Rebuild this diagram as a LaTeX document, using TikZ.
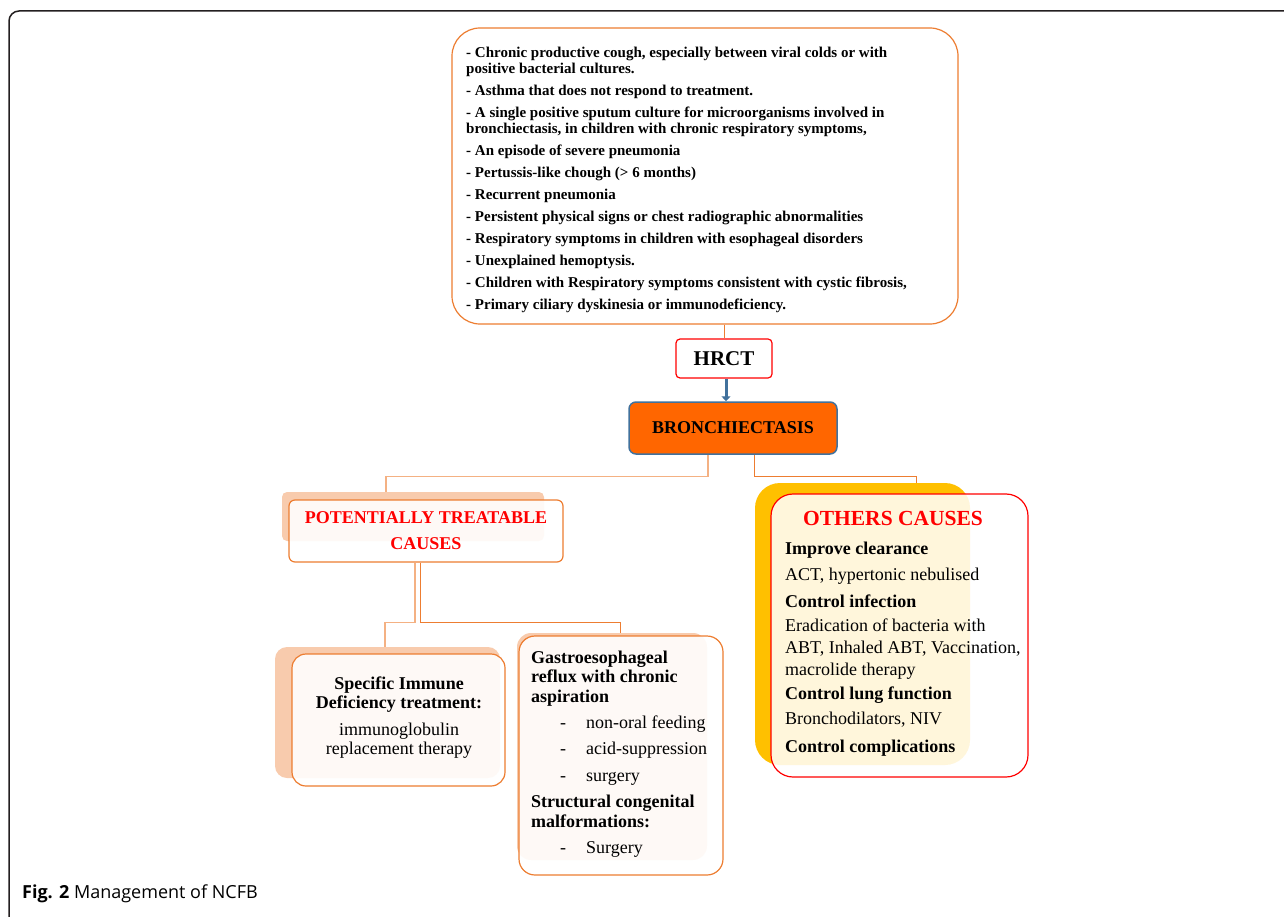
\documentclass[tikz,border=0pt]{standalone}
\usepackage{fontspec}
\setmainfont{Liberation Serif}
\newfontfamily\capfont{Open Sans}
\usetikzlibrary{arrows.meta}
\definecolor{orL}{HTML}{F4B183}
\definecolor{orD}{HTML}{ED7D31}
\definecolor{peach}{HTML}{F8CBAD}
\definecolor{bronF}{HTML}{FF6600}
\definecolor{blueG}{HTML}{41719C}
\definecolor{yel}{HTML}{FFC000}
\definecolor{frameC}{HTML}{231F20}
\begin{document}
\begin{tikzpicture}[x=1pt,y=-1pt,
  shadowbox/.style={fill=peach, inner sep=0, draw=none},
  wbox/.style={fill=white, fill opacity=0.9, text opacity=1, draw=orD, line width=1.2pt, inner sep=0},
  conL/.style={draw=orL, line width=1.4pt},
  conD/.style={draw=orD, line width=1pt},
  arr/.style={draw=blueG, line width=3pt, -{Triangle[length=5pt,width=9pt]}},
  txt/.style={inner sep=0, align=left}
]
\useasboundingbox (0,0) rectangle (1284,917);
% frame
\draw[frameC, line width=1.5pt, rounded corners=10pt] (9,917) -- (9,11) -- (1284,11);

% top box
\node[draw=orD, line width=1.2pt, fill=white, rounded corners=28pt, minimum width=506pt, minimum height=296pt, inner sep=0] (top) at (705,176) {};
\node[txt, anchor=north west, font=\fontsize{15}{16}\selectfont\bfseries] (toptext) at (466,46.5) {%
- Chronic productive cough, especially between viral colds or with\\
positive bacterial cultures.\\[6pt]
- Asthma that does not respond to treatment.\\[6pt]
- A single positive sputum culture for microorganisms involved in\\
bronchiectasis, in children with chronic respiratory symptoms,\\[6pt]
- An episode of severe pneumonia\\[6pt]
- Pertussis-like chough (> 6 months)\\[6pt]
- Recurrent pneumonia\\[6pt]
- Persistent physical signs or chest radiographic abnormalities\\[6pt]
- Respiratory symptoms in children with esophageal disorders\\[6pt]
- Unexplained hemoptysis.\\[6pt]
- Children with Respiratory symptoms consistent with cystic fibrosis,\\[6pt]
- Primary ciliary dyskinesia or immunodeficiency.};

% HRCT and bronchiectasis
\node[draw=red, fill=white, line width=1.2pt, rounded corners=4pt, minimum width=96pt, minimum height=39pt, inner sep=0, font=\fontsize{21}{24}\selectfont\bfseries] (hrct) at (724,358.5) {HRCT};
\node[draw=blueG, fill=bronF, line width=1.5pt, rounded corners=7pt, minimum width=208pt, minimum height=52pt, inner sep=0, font=\fontsize{18}{20}\selectfont\bfseries] (bron) at (733,428) {BRONCHIECTASIS};
\draw[conD] (top.south -| hrct.north) -- (hrct.north);
\draw[arr] ([xshift=2pt]hrct.south) -- ([xshift=2pt]hrct.south |- bron.north);

% shadows
\node[shadowbox, rounded corners=5pt, minimum width=262pt, minimum height=49pt] (potsh) at (413,516.5) {};
\node[shadowbox, rounded corners=12pt, minimum width=225pt, minimum height=131pt] (specsh) at (387.5,712.5) {};
\node[shadowbox, rounded corners=14pt, minimum width=190pt, minimum height=227pt] (gassh) at (612,746.5) {};
\node[fill=yel, inner sep=0, rounded corners=25pt, minimum width=215pt, minimum height=282pt] (othsh) at (862.5,624) {};

% connectors
\draw[conL] ([xshift=-25pt]bron.south) -- ++(0,22) -| ([xshift=-27pt]potsh.north);
\draw[conD] ([xshift=21pt]bron.south) -- ++(0,22) -| ([xshift=53.5pt]othsh.north);

% potentially treatable
\node[wbox, rounded corners=6pt, minimum width=274pt, minimum height=62pt, align=center, text=red, font=\fontsize{18}{26}\selectfont\bfseries] (pot) at (426,531) {POTENTIALLY TREATABLE\\CAUSES};
\draw[conL] ([xshift=-11pt]pot.south) -- ++(0,60) -| ([xshift=-2.5pt]specsh.north);
\draw[conD] ([xshift=-6pt]pot.south) -- ++(0,60) -| ([xshift=8pt]gassh.north);

% specific immune
\node[wbox, rounded corners=14pt, minimum width=213pt, minimum height=132pt] (spec) at (398.5,720) {};
\node[inner sep=0, align=center, anchor=north, font=\fontsize{18}{19}\selectfont] (spectext) at (399,676.7) {%
\textbf{Specific Immune}\\
\textbf{Deficiency treatment:}\\[8pt]
immunoglobulin\\
replacement therapy};

% gastro
\node[wbox, rounded corners=16pt, minimum width=204pt, minimum height=239pt] (gas) at (621,755.5) {};
\node[txt, anchor=north west, font=\fontsize{18}{19.5}\selectfont] (gastext) at (531,650.5) {%
\textbf{Gastroesophageal}\\
\textbf{reflux with chronic}\\
\textbf{aspiration}\\[6.5pt]
\hspace*{29pt}\makebox[26pt][l]{-}non-oral feeding\\[7pt]
\hspace*{29pt}\makebox[26pt][l]{-}acid-suppression\\[7.5pt]
\hspace*{29pt}\makebox[26pt][l]{-}surgery\\[6.5pt]
\textbf{Structural congenital}\\
\textbf{malformations:}\\[6.5pt]
\hspace*{29pt}\makebox[26pt][l]{-}Surgery};

% others causes
\node[fill=white, fill opacity=0.86, text opacity=1, draw=red, line width=1.2pt, rounded corners=22pt, minimum width=257pt, minimum height=283pt, inner sep=0] (oth) at (899.5,635.5) {};
\node[inner sep=0, text=red, font=\fontsize{21.5}{24}\selectfont\bfseries] (othtitle) at (893,518) {OTHERS CAUSES};
\node[txt, anchor=north west, font=\fontsize{18}{22}\selectfont] (othtext) at (785,541.7) {%
\textbf{Improve clearance}\\[4pt]
ACT, hypertonic nebulised\\[5pt]
\textbf{Control infection}\\[2pt]
Eradication of bacteria with\\
ABT, Inhaled ABT, Vaccination,\\
macrolide therapy\\[2pt]
\textbf{Control lung function}\\[3pt]
Bronchodilators, NIV\\[6pt]
\textbf{Control complications}};

% caption
\node[inner sep=0, anchor=base west, font=\capfont\fontsize{18}{21}\selectfont] (cap) at (22,898) {\textbf{Fig. 2} Management of NCFB};
\end{tikzpicture}
\end{document}
